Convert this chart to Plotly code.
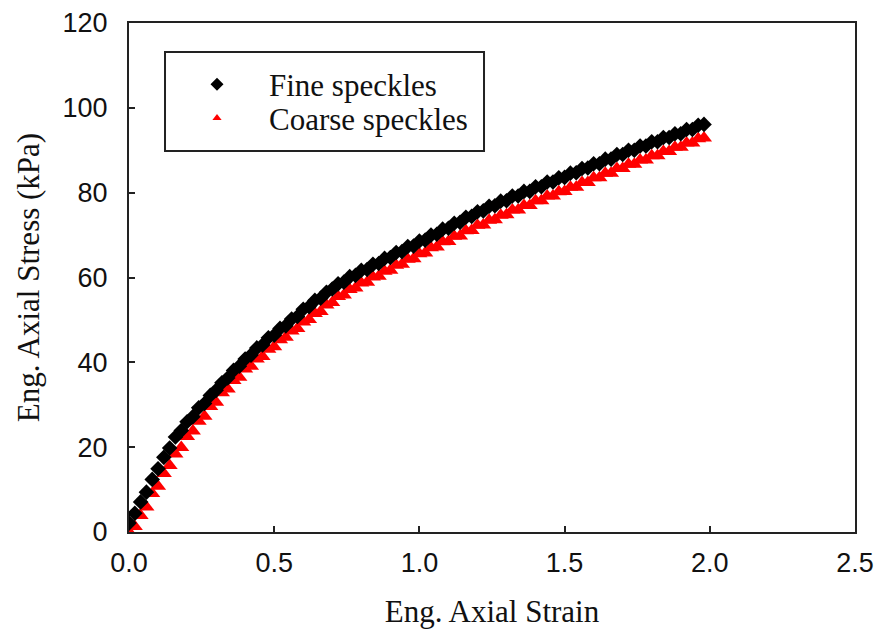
import plotly.graph_objects as go

# Eng. axial strain sampling positions
strain = [round(i * 0.02, 2) for i in range(100)]

# Fine speckles (black diamonds), Eng. axial stress in kPa
fine_stress = [
    2.1, 4.4, 7.1, 9.4, 12.4, 14.9, 17.6, 19.8, 22.4, 23.9,
    26.0, 27.2, 29.3, 30.3, 32.2, 33.4, 35.2, 36.3, 38.1, 39.1,
    40.8, 41.7, 43.4, 44.1, 45.8, 46.4, 48.0, 48.6, 50.2, 50.8,
    52.5, 53.1, 54.6, 55.1, 56.5, 57.3, 58.5, 58.9, 60.2, 60.5,
    61.7, 61.9, 63.1, 63.3, 64.5, 64.7, 65.9, 66.1, 67.3, 67.4,
    68.6, 68.8, 70.0, 70.2, 71.4, 71.6, 72.8, 73.0, 74.2, 74.4,
    75.5, 75.7, 76.8, 76.9, 78.0, 78.1, 79.2, 79.2, 80.3, 80.3,
    81.4, 81.4, 82.5, 82.5, 83.5, 83.6, 84.6, 84.7, 85.7, 85.8,
    86.8, 86.8, 87.9, 87.9, 89.0, 89.0, 90.0, 90.0, 91.0, 91.0,
    92.0, 92.0, 93.0, 93.0, 93.9, 93.9, 94.9, 94.9, 95.9, 96.1,
]

# Coarse speckles (red triangles), Eng. axial stress in kPa
coarse_stress = [
    0.0, 1.3, 3.9, 5.9, 9.1, 10.8, 13.8, 15.7, 18.4, 19.9,
    22.5, 23.8, 26.1, 27.3, 29.6, 30.6, 32.8, 33.7, 35.7, 36.5,
    38.4, 39.1, 40.8, 41.4, 43.1, 43.7, 45.3, 45.9, 47.4, 48.0,
    49.5, 50.1, 51.5, 52.0, 53.5, 54.1, 55.5, 55.9, 57.2, 57.5,
    58.7, 58.9, 60.1, 60.3, 61.5, 61.7, 62.9, 63.1, 64.3, 64.4,
    65.6, 65.8, 67.0, 67.2, 68.4, 68.5, 69.7, 69.8, 71.0, 71.1,
    72.3, 72.4, 73.5, 73.6, 74.7, 74.8, 75.9, 75.9, 77.0, 77.0,
    78.1, 78.1, 79.2, 79.2, 80.2, 80.3, 81.3, 81.3, 82.4, 82.4,
    83.5, 83.5, 84.6, 84.6, 85.7, 85.7, 86.7, 86.7, 87.7, 87.7,
    88.7, 88.7, 89.7, 89.7, 90.7, 90.7, 91.7, 91.7, 92.7, 92.9,
]

series_names = ["Fine speckles", "Coarse speckles"]
x_ticks = [0.0, 0.5, 1.0, 1.5, 2.0, 2.5]
y_ticks = [0, 20, 40, 60, 80, 100, 120]

SERIF = "Liberation Serif, Times New Roman, serif"
SANS = "Liberation Sans, Arial, sans-serif"
INK = "#111111"

fig = go.Figure()
# data marks (red drawn first, black on top)
fig.add_trace(go.Scatter(
    x=strain, y=coarse_stress, mode="markers", showlegend=False,
    marker=dict(symbol="triangle-up", color="#ff0000", size=14, line=dict(width=0)),
))
fig.add_trace(go.Scatter(
    x=strain, y=fine_stress, mode="markers", showlegend=False,
    marker=dict(symbol="diamond", color="#000000", size=12, line=dict(width=0)),
))
# legend entries (one legend per row so the row spacing matches)
fig.add_trace(go.Scatter(
    x=[None], y=[None], mode="markers", name=series_names[0], legend="legend",
    marker=dict(symbol="diamond", color="#000000", size=10),
))
fig.add_trace(go.Scatter(
    x=[None], y=[None], mode="markers", name=series_names[1], legend="legend2",
    marker=dict(symbol="triangle-up", color="#ff0000", size=8),
))

axis_common = dict(
    showgrid=False, zeroline=False, showline=True, linecolor="#222222", linewidth=2,
    mirror=True, ticks="inside", ticklen=6, tickwidth=2, tickcolor="#222222",
    tickfont=dict(family=SANS, size=27, color=INK), automargin=False,
)

legend_common = dict(
    xanchor="left", yanchor="middle", bgcolor="rgba(0,0,0,0)", borderwidth=0,
    itemwidth=94, font=dict(family=SERIF, size=31, color=INK),
)

fig.update_layout(
    width=877, height=631,
    margin=dict(l=129, r=22, t=23, b=99),
    paper_bgcolor="white", plot_bgcolor="white",
    xaxis=dict(range=[0, 2.5], tickvals=x_ticks, ticktext=[f"{v:.1f}" for v in x_ticks],
               title=dict(text="Eng. Axial Strain", font=dict(family=SERIF, size=31, color=INK),
                          standoff=23),
               ticklabelstandoff=6, **axis_common),
    yaxis=dict(range=[0, 120], tickvals=y_ticks, ticktext=[str(v) for v in y_ticks],
               title=dict(text="Eng. Axial Stress (kPa)", font=dict(family=SERIF, size=31, color=INK),
                          standoff=14),
               ticklabelstandoff=14, **axis_common),
    showlegend=True,
    legend=dict(x=0.0496, y=0.879, **legend_common),
    legend2=dict(x=0.0496, y=0.8125, **legend_common),
    shapes=[dict(type="rect", xref="paper", yref="paper",
                 x0=0.0496, x1=0.489, y0=0.7485, y1=0.943,
                 line=dict(color="#222222", width=2), fillcolor="rgba(0,0,0,0)")],
)

fig.write_html("out.html")
